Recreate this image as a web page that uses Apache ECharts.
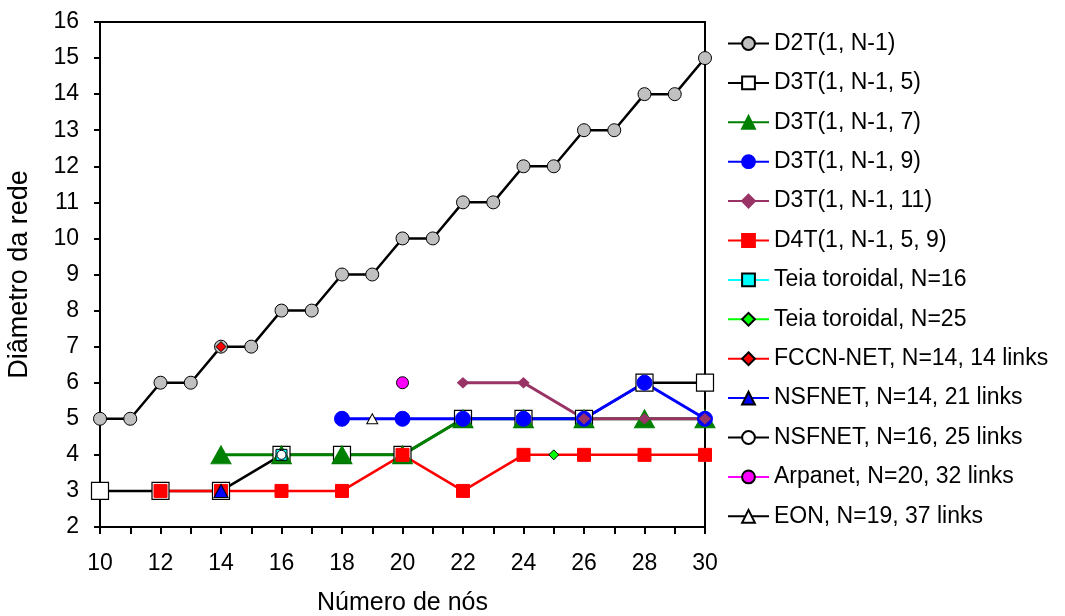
<!DOCTYPE html>
<html>
<head>
<meta charset="utf-8">
<script src="https://cdn.jsdelivr.net/npm/echarts@6/dist/echarts.min.js"></script>
<style>
  html, body { margin: 0; padding: 0; background: #fff; }
  #chart { width: 1065px; height: 616px; }
</style>
</head>
<body>
<div id="chart"></div>
<script>
// Network sizes (number of nodes)
const nodesAll = [10, 11, 12, 13, 14, 15, 16, 17, 18, 19, 20, 21, 22, 23, 24, 25, 26, 27, 28, 29, 30];
const nodesEven = [10, 12, 14, 16, 18, 20, 22, 24, 26, 28, 30];

// Network diameters per topology
const d2t = [5, 5, 6, 6, 7, 7, 8, 8, 9, 9, 10, 10, 11, 11, 12, 12, 13, 13, 14, 14, 15];
const d3t5 = [3, 3, 3, 4, 4, 4, 5, 5, 5, 6, 6];
const d3t7 = [null, null, 4, 4, 4, 4, 5, 5, 5, 5, 5];
const d3t9 = [null, null, null, null, 5, 5, 5, 5, 5, 6, 5];
const d3t11 = [null, null, null, null, null, null, 6, 6, 5, 5, 5];
const d4t = [null, 3, 3, 3, 3, 4, 3, 4, 4, 4, 4];

// Single reference networks: [nodes, diameter]
const teia16 = [16, 4];
const teia25 = [25, 4];
const fccn = [14, 7];
const nsfnet14 = [14, 3];
const nsfnet16 = [16, 4];
const arpanet = [20, 6];
const eon = [19, 5];

const seriesNames = [
  'D2T(1, N-1)',
  'D3T(1, N-1, 5)',
  'D3T(1, N-1, 7)',
  'D3T(1, N-1, 9)',
  'D3T(1, N-1, 11)',
  'D4T(1, N-1, 5, 9)',
  'Teia toroidal, N=16',
  'Teia toroidal, N=25',
  'FCCN-NET, N=14, 14 links',
  'NSFNET, N=14, 21 links',
  'NSFNET, N=16, 25 links',
  'Arpanet, N=20, 32 links',
  'EON, N=19, 37 links'
];

function pairs(xs, ys) {
  const out = [];
  xs.forEach((x, i) => { if (ys[i] !== null) out.push([x, ys[i]]); });
  return out;
}

const FONT = 'Liberation Sans, Arial, sans-serif';

function lineSeries(name, data, opts) {
  return {
    name: name,
    type: 'line',
    data: data,
    symbol: opts.symbol,
    symbolSize: opts.size,
    showSymbol: true,
    animation: false,
    lineStyle: { color: opts.line, width: opts.width },
    itemStyle: { color: opts.fill, borderColor: opts.border, borderWidth: opts.borderWidth == null ? 1 : opts.borderWidth },
    emphasis: { disabled: true }
  };
}

const series = [
  lineSeries(seriesNames[0], pairs(nodesAll, d2t), { symbol: 'circle', size: 13, line: '#000', width: 2.5, fill: '#c0c0c0', border: '#000' }),
  lineSeries(seriesNames[1], pairs(nodesEven, d3t5), { symbol: 'rect', size: 17, line: '#000', width: 2.5, fill: '#fff', border: '#000', borderWidth: 1.2 }),
  lineSeries(seriesNames[2], pairs(nodesEven, d3t7), { symbol: 'triangle', size: [20, 18], line: '#008000', width: 3, fill: '#008000', border: '#008000' }),
  lineSeries(seriesNames[3], pairs(nodesEven, d3t9), { symbol: 'circle', size: 15, line: '#0000ff', width: 3, fill: '#0000ff', border: '#0000ff' }),
  lineSeries(seriesNames[4], pairs(nodesEven, d3t11), { symbol: 'diamond', size: [11, 10], line: '#993366', width: 3, fill: '#993366', border: '#993366' }),
  lineSeries(seriesNames[5], pairs(nodesEven, d4t), { symbol: 'rect', size: 13, line: '#ff0000', width: 2.5, fill: '#ff0000', border: '#ff0000' }),
  lineSeries(seriesNames[6], [teia16], { symbol: 'rect', size: 11, line: '#00ffff', width: 3, fill: '#00ffff', border: '#000' }),
  lineSeries(seriesNames[7], [teia25], { symbol: 'diamond', size: 10, line: '#00ff00', width: 1.5, fill: '#00ff00', border: '#000' }),
  lineSeries(seriesNames[8], [fccn], { symbol: 'diamond', size: 10, line: '#ff0000', width: 1.5, fill: '#ff0000', border: '#000' }),
  lineSeries(seriesNames[9], [nsfnet14], { symbol: 'triangle', size: [14, 13], line: '#0000ff', width: 1.5, fill: '#0000ff', border: '#000' }),
  lineSeries(seriesNames[10], [nsfnet16], { symbol: 'circle', size: 9, line: '#000', width: 3, fill: '#fff', border: '#000' }),
  lineSeries(seriesNames[11], [arpanet], { symbol: 'circle', size: 12, line: '#ff00ff', width: 3, fill: '#ff00ff', border: '#000' }),
  lineSeries(seriesNames[12], [eon], { symbol: 'triangle', size: [11, 10], line: '#000', width: 1.2, fill: '#fff', border: '#000' })
];

const chart = echarts.init(document.getElementById('chart'), null, { renderer: 'canvas' });
chart.setOption({
  animation: false,
  backgroundColor: '#fff',
  textStyle: { fontFamily: FONT, color: '#000' },
  grid: {
    left: 100, right: 360, top: 22, bottom: 89,
    outerBoundsMode: 'none',
    containLabel: false,
    show: true, borderColor: '#000', borderWidth: 2, backgroundColor: 'transparent'
  },
  legend: {
    orient: 'vertical',
    left: 722, top: 27,
    itemWidth: 41, itemHeight: 16,
    itemGap: 16.4,
    data: seriesNames,
    textStyle: { fontFamily: FONT, fontSize: 23, color: '#000' },
    selectedMode: false
  },
  xAxis: {
    type: 'value', min: 10, max: 30, interval: 2,
    name: 'Número de nós', nameLocation: 'middle', nameGap: 64,
    nameTextStyle: { fontFamily: FONT, fontSize: 25, color: '#000' },
    axisLine: { lineStyle: { color: '#000', width: 2 } },
    axisTick: { show: true, length: 7, lineStyle: { color: '#000', width: 2 } },
    minorTick: { show: true, splitNumber: 2, length: 7, lineStyle: { color: '#000', width: 2 } },
    axisLabel: { fontFamily: FONT, fontSize: 23, color: '#000', margin: 25 },
    splitLine: { show: false }
  },
  yAxis: {
    type: 'value', min: 2, max: 16, interval: 1,
    name: 'Diâmetro da rede', nameLocation: 'middle', nameGap: 67,
    nameTextStyle: { fontFamily: FONT, fontSize: 27, color: '#000' },
    axisLine: { lineStyle: { color: '#000', width: 2 } },
    axisTick: { show: true, length: 6, lineStyle: { color: '#000', width: 2 } },
    axisLabel: { fontFamily: FONT, fontSize: 23, color: '#000', margin: 21 },
    splitLine: { show: false }
  },
  series: series
});
</script>
</body>
</html>
